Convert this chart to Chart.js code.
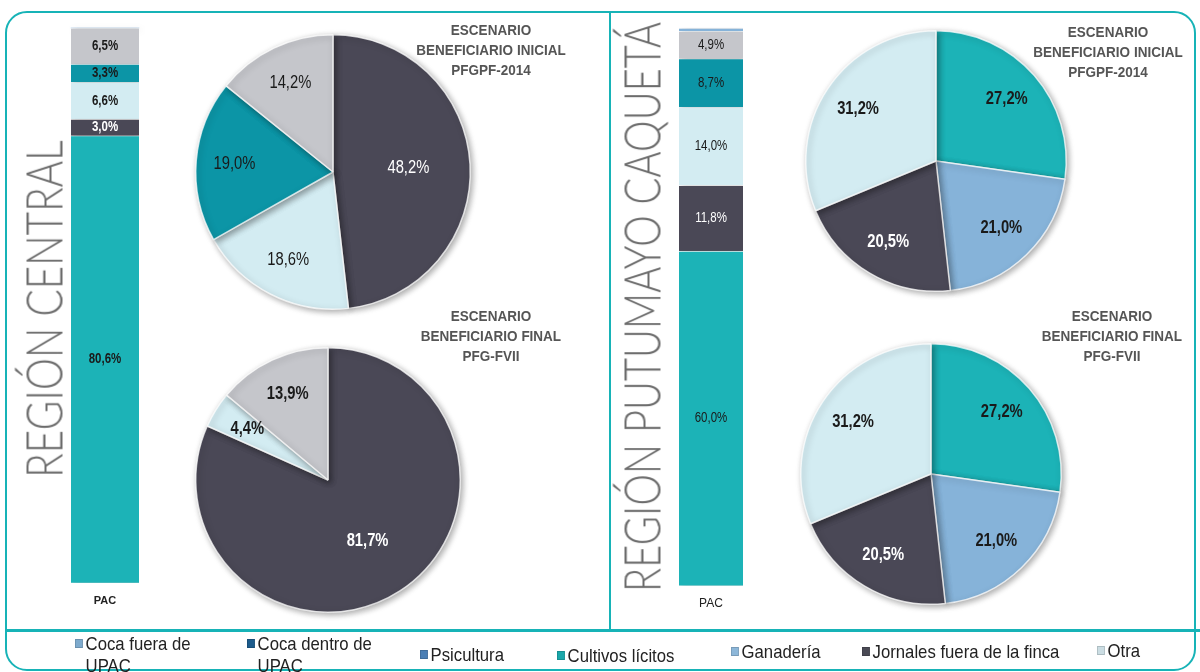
<!DOCTYPE html>
<html lang="es">
<head>
<meta charset="utf-8">
<title>Escenario beneficiario - PAC</title>
<script src="https://cdn.jsdelivr.net/npm/chart.js@4.4.1/dist/chart.umd.min.js"></script>
<style>
  body { margin: 0; width: 1200px; height: 672px; background: #fff; position: relative; overflow: hidden;
         font-family: 'Liberation Sans', Arial, sans-serif; }
  .abs { position: absolute; }
  .marco { left: 5px; top: 11px; width: 1187px; height: 656px; border: 2px solid #17b3b7; border-radius: 22px; }
  .linea-h { left: 6px; top: 629px; width: 1194px; height: 3px; background: #17b3b7; }
  .linea-v { left: 609px; top: 12px; width: 2px; height: 618px; background: #17b3b7; }
  .region { position: absolute; font-family: Lato, 'Open Sans', sans-serif; font-weight: 300; font-size: 51px;
            line-height: 1; color: #6b6b6b; white-space: nowrap; }
  .titulo { position: absolute; width: 200px; text-align: center; font-weight: bold; font-size: 15px;
            line-height: 20px; color: #555; transform: scaleX(0.9); }
  .ley { position: absolute; font-size: 19px; line-height: 22px; color: #222; white-space: nowrap;
         padding-left: 12px; transform: scaleX(0.88); transform-origin: 0 0; }
  .ley i { position: absolute; left: 0; top: 6px; width: 9px; height: 9px;
           border: 1px solid rgba(0,0,0,0.15); box-sizing: border-box; }
</style>
</head>
<body>
<div class="abs marco"></div>
<div class="abs linea-h"></div>
<div class="abs linea-v"></div>

<div class="abs" style="left:56px;top:20px"><canvas id="barCentral" width="100" height="640"></canvas></div>
<div class="abs" style="left:660px;top:20px"><canvas id="barPutumayo" width="100" height="640"></canvas></div>
<div class="abs" style="left:187px;top:26px"><canvas id="pieCentralIni" width="292" height="292"></canvas></div>
<div class="abs" style="left:187px;top:339px"><canvas id="pieCentralFin" width="282" height="282"></canvas></div>
<div class="abs" style="left:797px;top:22px"><canvas id="piePutumayoIni" width="278" height="278"></canvas></div>
<div class="abs" style="left:792px;top:335px"><canvas id="piePutumayoFin" width="278" height="278"></canvas></div>

<div id="regCentral" class="region" style="left:43px;top:309px">REGIÓN CENTRAL</div>
<div id="regPutumayo" class="region" style="left:641px;top:307px">REGIÓN PUTUMAYO CAQUETÁ</div>

<div class="titulo" style="left:391px;top:20px">ESCENARIO<br>BENEFICIARIO INICIAL<br>PFGPF-2014</div>
<div class="titulo" style="left:391px;top:306px">ESCENARIO<br>BENEFICIARIO FINAL<br>PFG-FVII</div>
<div class="titulo" style="left:1008px;top:22px">ESCENARIO<br>BENEFICIARIO INICIAL<br>PFGPF-2014</div>
<div class="titulo" style="left:1012px;top:306px">ESCENARIO<br>BENEFICIARIO FINAL<br>PFG-FVII</div>

<div id="leyenda"></div>

<script>
// categorías de los segmentos de la barra PAC (de abajo hacia arriba)
const barLabels = ['PAC'];
const segmentos = ['Cultivos lícitos', 'Jornales fuera de la finca', 'Otra', 'Coca dentro de UPAC', 'Coca fuera de UPAC', 'Ganadería'];
const centralPAC = [80.6, 3.0, 6.6, 3.3, 6.5, 0];
const putumayoPAC = [60.0, 11.8, 14.0, 8.7, 4.9, 0.6];

// tortas (sentido horario desde las 12)
const centralIniCat = ['Jornales fuera de la finca', 'Otra', 'Coca dentro de UPAC', 'Coca fuera de UPAC'];
const centralIni = [48.2, 18.6, 19.0, 14.2];
const centralFinCat = ['Jornales fuera de la finca', 'Otra', 'Coca fuera de UPAC'];
const centralFin = [81.7, 4.4, 13.9];
const putumayoCat = ['Cultivos lícitos', 'Ganadería', 'Jornales fuera de la finca', 'Otra'];
const putumayoIni = [27.2, 21.0, 20.5, 31.2];
const putumayoFin = [27.2, 21.0, 20.5, 31.2];

const leyendaItems = ['Coca fuera de UPAC', 'Coca dentro de UPAC', 'Psicultura', 'Cultivos lícitos', 'Ganadería', 'Jornales fuera de la finca', 'Otra'];

const COLORES = {
    'Cultivos lícitos': '#1cb3b7', 'Jornales fuera de la finca': '#4a4856', 'Otra': '#d3ecf2',
    'Coca dentro de UPAC': '#0c95a6', 'Coca fuera de UPAC': '#c5c6cb', 'Ganadería': '#86b3d9', 'Psicultura': '#4d7fb5'
};
const COLORES_LEY = {
    'Coca fuera de UPAC': '#7eaacd', 'Coca dentro de UPAC': '#1c5b8c', 'Psicultura': '#4b7fb5', 'Cultivos lícitos': '#1aa7aa',
    'Ganadería': '#8db7d9', 'Jornales fuera de la finca': '#4a4a55', 'Otra': '#cbdde3'
};
const FUENTE = "'Liberation Sans', Arial, sans-serif";
const ESTRECHO = 0.82;   // simula Arial Narrow

const fmt = v => v.toFixed(1).replace('.', ',') + '%';
const colorTexto = cat => cat === 'Jornales fuera de la finca' ? '#fff' : '#1a1a1a';

function textoEstrecho(c, txt, x, y) {
    c.save();
    c.translate(x, y);
    c.scale(ESTRECHO, 1);
    c.fillText(txt, 0, 0);
    c.restore();
}

// sombra suave bajo las marcas
const sombra = {
    id: 'sombra',
    beforeDatasetsDraw(chart) {
        const c = chart.ctx;
        c.save();
        c.shadowColor = 'rgba(0,0,0,0.35)';
        c.shadowBlur = 6; c.shadowOffsetX = 2; c.shadowOffsetY = 2;
    },
    afterDatasetsDraw(chart) { chart.ctx.restore(); }
};

const etiquetasBarra = {
    id: 'etiquetasBarra',
    afterDatasetsDraw(chart, args, opts) {
        const c = chart.ctx;
        c.save();
        c.textAlign = 'center'; c.textBaseline = 'middle';
        c.font = (opts.negrita ? 'bold ' : '') + '14px ' + FUENTE;
        chart.data.datasets.forEach((ds, i) => {
            const v = ds.data[0];
            if (v < 1) return;
            const el = chart.getDatasetMeta(i).data[0];
            c.fillStyle = colorTexto(ds.label);
            textoEstrecho(c, fmt(v), el.x, (el.y + el.base) / 2);
        });
        c.restore();
    }
};

const etiquetasTorta = {
    id: 'etiquetasTorta',
    afterDatasetsDraw(chart, args, opts) {
        const c = chart.ctx;
        const ds = chart.data.datasets[0];
        c.save();
        c.textAlign = 'center'; c.textBaseline = 'middle';
        c.font = (opts.negrita ? 'bold ' : '') + '18px ' + FUENTE;
        chart.getDatasetMeta(0).data.forEach((arc, i) => {
            const v = ds.data[i];
            const mid = (arc.startAngle + arc.endAngle) / 2;
            const f = v > 40 ? 0.55 : 0.72;
            c.fillStyle = colorTexto(chart.data.labels[i]);
            textoEstrecho(c, fmt(v), arc.x + Math.cos(mid) * arc.outerRadius * f, arc.y + Math.sin(mid) * arc.outerRadius * f);
        });
        c.restore();
    }
};

function barra(id, datos, negrita, tickPad, pad) {
    new Chart(document.getElementById(id), {
        type: 'bar',
        data: {
            labels: barLabels,
            datasets: segmentos.map((s, i) => ({
                label: s, data: [datos[i]], backgroundColor: COLORES[s],
                borderColor: 'rgba(255,255,255,0.45)', borderWidth: { top: 1 }, borderSkipped: false,
                barPercentage: 1, categoryPercentage: 1, clip: false
            }))
        },
        options: {
            responsive: false, animation: false,
            layout: { padding: pad },
            scales: {
                x: { stacked: true, grid: { display: false, drawTicks: false }, border: { display: false },
                     ticks: { color: '#222', padding: tickPad, font: { family: FUENTE, size: negrita ? 11 : 12, weight: negrita ? 'bold' : 'normal' } } },
                y: { stacked: true, display: false, min: 0, max: 100 }
            },
            plugins: { legend: { display: false }, tooltip: { enabled: false }, etiquetasBarra: { negrita } }
        },
        plugins: [sombra, etiquetasBarra]
    });
}

function torta(id, cats, vals, negrita) {
    new Chart(document.getElementById(id), {
        type: 'pie',
        data: {
            labels: cats,
            datasets: [{ data: vals, backgroundColor: cats.map(c => COLORES[c]), borderColor: 'rgba(255,255,255,0.75)', borderWidth: 1.5 }]
        },
        options: {
            responsive: false, animation: false,
            layout: { padding: 8 },
            plugins: { legend: { display: false }, tooltip: { enabled: false }, etiquetasTorta: { negrita } }
        },
        plugins: [sombra, etiquetasTorta]
    });
}

barra('barCentral', centralPAC, true, 12, { left: 15, right: 17, top: 8, bottom: 40 });
barra('barPutumayo', putumayoPAC, false, 11, { left: 19, right: 17, top: 8, bottom: 38 });
torta('pieCentralIni', centralIniCat, centralIni, false);
torta('pieCentralFin', centralFinCat, centralFin, true);
torta('piePutumayoIni', putumayoCat, putumayoIni, true);
torta('piePutumayoFin', putumayoCat, putumayoFin, true);

// títulos verticales: ajustar largo al de la imagen
[['regCentral', 338], ['regPutumayo', 570]].forEach(([id, largo]) => {
    const el = document.getElementById(id);
    const k = largo / el.offsetWidth;
    el.style.transform = `translate(-50%,-50%) rotate(-90deg) scale(${k},1)`;
});

// leyenda
const posLey = [[75, 633], [247, 633], [420, 644], [557, 645], [731, 641], [862, 641], [1097, 640]];
const ley = document.getElementById('leyenda');
leyendaItems.forEach((it, i) => {
    const d = document.createElement('div');
    d.className = 'ley';
    d.style.left = posLey[i][0] + 'px';
    d.style.top = posLey[i][1] + 'px';
    d.innerHTML = `<i style="background:${COLORES_LEY[it]}"></i>${it.replace(' de UPAC', ' de<br>UPAC')}`;
    ley.appendChild(d);
});
</script>
</body>
</html>
